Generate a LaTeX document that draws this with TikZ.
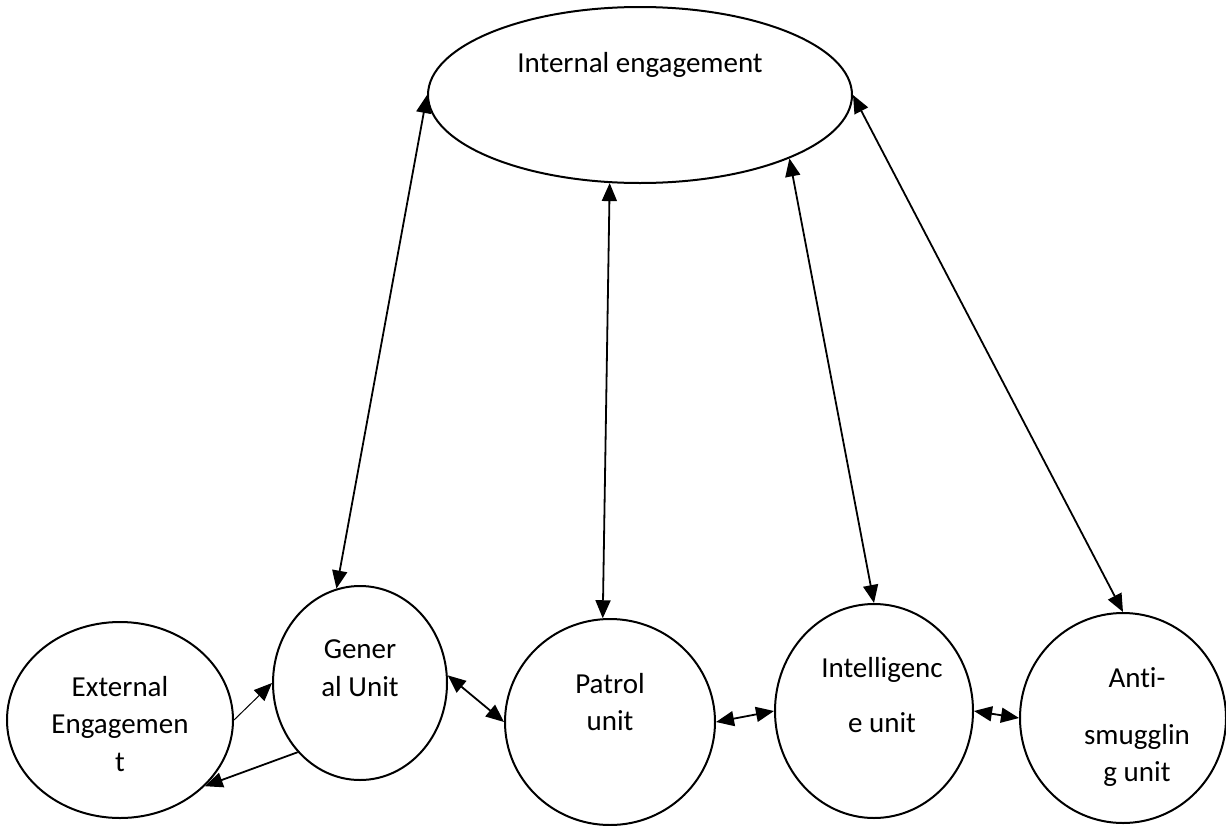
\documentclass[tikz,border=0pt]{standalone}
\usepackage{fontspec}
\setmainfont{Carlito}[Ligatures={NoCommon,NoContextual,NoRare}, Contextuals={NoAlternate}]
\usetikzlibrary{arrows.meta,shapes.geometric}

\begin{document}
\begin{tikzpicture}[
    x=0.5pt, y=-0.5pt,
    unit/.style={ellipse, draw=black, line width=1pt, inner sep=0pt},
    utext/.style={align=center, font=\fontsize{14.5}{18.75}\selectfont},
    link/.style={<->, >={Triangle[length=9pt, width=7.5pt]}, line width=0.9pt},
    oneway/.style={->, >={Triangle[length=9pt, width=7.5pt]}, line width=0.9pt}
]
    \useasboundingbox (0,0) rectangle (1226,825);

    % Top node
    \node[unit, minimum width=212pt, minimum height=88pt,
          label={[utext, yshift=15pt]center:Internal engagement}] (ie) at (640,95) {};

    % Unit nodes
    \node[unit, minimum width=113pt, minimum height=98pt,
          label={[utext, yshift=-2pt]center:External\\Engagemen\\t}] (ee) at (120,720) {};
    \node[unit, minimum width=87pt, minimum height=97pt,
          label={[utext, yshift=7.5pt]center:Gener\\al Unit}] (gu) at (360,683) {};
    \node[unit, minimum width=105pt, minimum height=103pt,
          label={[utext, yshift=10pt]center:Patrol\\unit}] (pu) at (610,722) {};
    \node[unit, minimum width=99pt, minimum height=107pt,
          label={[utext, xshift=4pt, yshift=8pt]center:Intelligenc\\[8.75pt]e unit}] (iu) at (874,711) {};
    \node[unit, minimum width=103pt, minimum height=105pt,
          label={[utext, xshift=7pt, yshift=-4.5pt]center:Ant\kern0pt i-\\[9.75pt]smugglin\\g unit}] (au) at (1123,718) {};

    % Edges from the top node
    \draw[link] (ie.west) -- (gu.104);
    \draw[link] (ie.251) -- (pu.94);
    \draw[link] (ie.337) -- (iu.90);
    \draw[link] (ie.east) -- (au.90);

    % Edges between external engagement and general unit
    \draw[oneway, line width=0.5pt] (ee.east) -- (gu.west);
    \draw[oneway] (gu.228) -- (ee.322);

    % Edges along the bottom row
    \draw[link] (gu.5) -- (pu.west);
    \draw[link] (pu.east) -- (iu.west);
    \draw[link] (iu.east) -- (au.west);

\end{tikzpicture}
\end{document}
